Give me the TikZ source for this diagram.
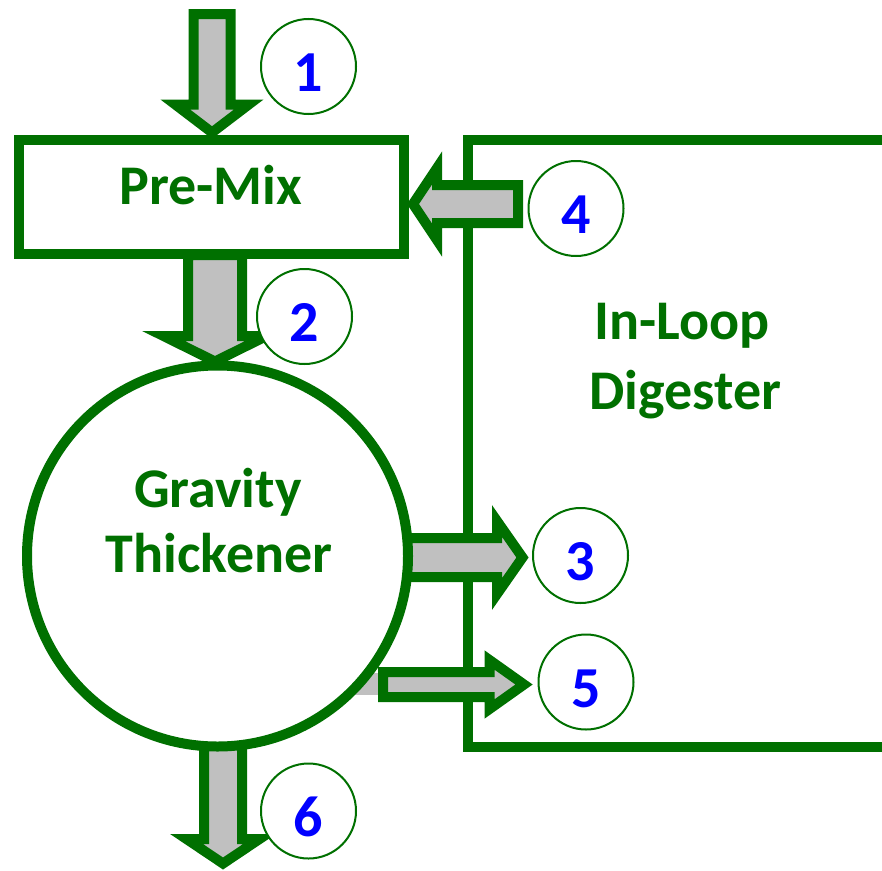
\documentclass[tikz,border=0pt]{standalone}
\usepackage{fontspec}
\setmainfont{Carlito}
\definecolor{dg}{RGB}{0,112,0}
\definecolor{ag}{RGB}{192,192,192}
\definecolor{nb}{RGB}{0,0,255}
\tikzset{
  barrow/.style={draw=dg, fill=ag, line width=10pt, line join=miter},
  unitbox/.style={draw=dg, line width=10pt, fill=white, inner sep=0pt},
  lbl/.style={text=dg, font=\fontsize{56}{64}\selectfont\bfseries, inner sep=0pt, anchor=base},
  numc/.style={circle, draw=dg, line width=2pt, fill=white, minimum size=95pt, inner sep=0pt},
  numt/.style={text=nb, font=\fontsize{58}{64}\selectfont\bfseries, inner sep=0pt, anchor=base},
}
% vertical block arrow: cx, ytail, ytip, shaft half, head half, head base y
\newcommand{\varrow}[6]{\draw[barrow] ({#1-#4},#2) -- ({#1+#4},#2) -- ({#1+#4},#6) -- ({#1+#5},#6) -- (#1,#3) -- ({#1-#5},#6) -- ({#1-#4},#6) -- cycle;}
% horizontal block arrow: cy, xtail, xtip, shaft half, head half, head base x
\newcommand{\harrow}[6]{\draw[barrow] (#2,{#1-#4}) -- (#2,{#1+#4}) -- (#6,{#1+#4}) -- (#6,{#1+#5}) -- (#3,#1) -- (#6,{#1-#5}) -- (#6,{#1-#4}) -- cycle;}
\begin{document}
\begin{tikzpicture}[x=1pt,y=-1pt]
\useasboundingbox (0,0) rectangle (882,870);
% Pre-Mix box
\node[unitbox, minimum width=385pt, minimum height=114pt] (premix) at (211.5,197) {};
\node[lbl] (premixt) at (211,204) {Pre-Mix};
% In-Loop Digester
\coordinate (dtr) at (900,140);
\coordinate (dtl) at (468,140);
\coordinate (dbl) at (468,747);
\coordinate (dbr) at (900,747);
\draw[draw=dg, line width=10pt] (dtr) -- (dtl) -- (dbl) -- (dbr);
\node[lbl] (dig1) at (682,339) {In-Loop};
\node[lbl] (dig2) at (685.5,409) {Digester};
% arrows behind the thickener
\varrow{223}{740}{863.5}{19}{36.5}{839}
\harrow{557.5}{405}{522.5}{19.5}{36.5}{497}
\fill[ag] (352,673) rectangle (381,695);
% Gravity Thickener
\node[circle, draw=dg, line width=10pt, fill=white, minimum size=381pt, inner sep=0pt] (thick) at (217.5,556) {};
\node[lbl] (grav) at (218,507) {Gravity};
\node[lbl] (thk) at (219,572) {Thickener};
% other arrows
\varrow{212}{14}{132.5}{18.5}{36.75}{104.5}
\varrow{215}{255}{361.5}{27}{51.5}{336}
\harrow{204}{518}{413}{19}{36}{437}
\harrow{684.5}{383}{524}{12.5}{24.5}{489.5}
% number circles
\node[numc] (n1) at (308.5,66.5) {};
\node[numc] (n2) at (304.5,316.5) {};
\node[numc] (n3) at (580.5,555.5) {};
\node[numc] (n4) at (576,208.5) {};
\node[numc] (n5) at (586,682) {};
\node[numc] (n6) at (308.5,811) {};
\node[numt] (t1) at (308.5,91.5) {1};
\node[numt] (t2) at (304.5,341.5) {2};
\node[numt] (t3) at (580.5,580.5) {3};
\node[numt] (t4) at (576,233.5) {4};
\node[numt] (t5) at (586,707) {5};
\node[numt] (t6) at (308.5,836) {6};
\end{tikzpicture}
\end{document}
